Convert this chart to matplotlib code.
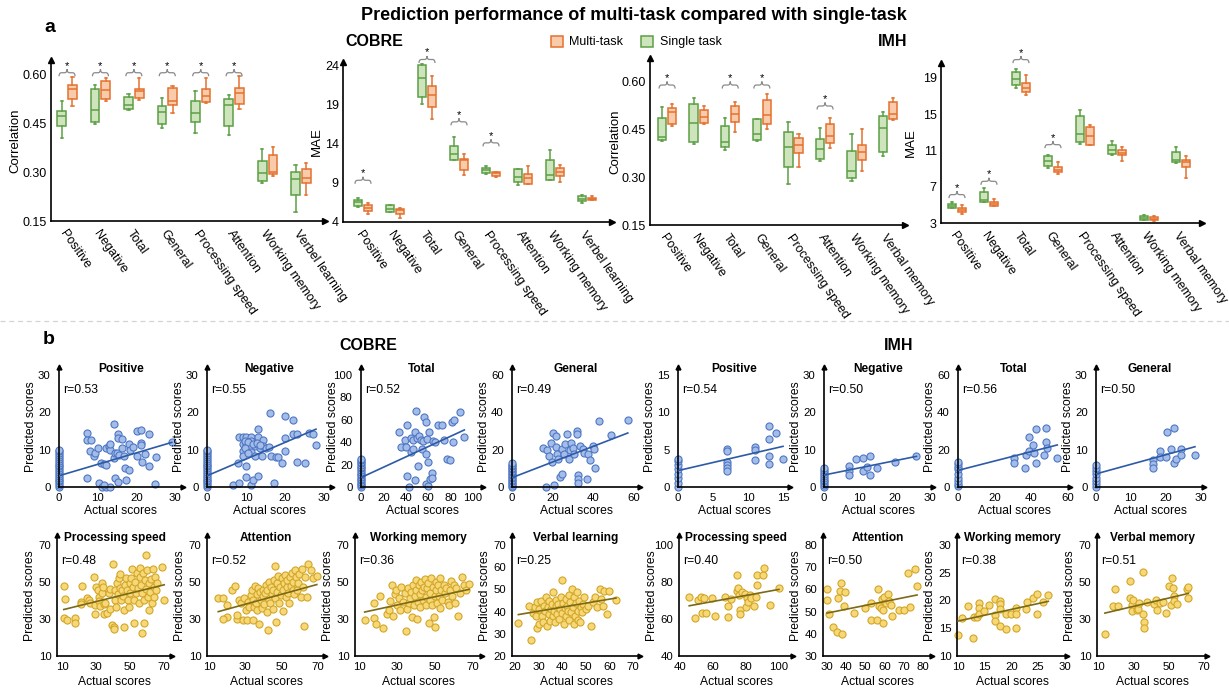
import numpy as np
import matplotlib.pyplot as plt
from matplotlib.path import Path
from matplotlib.patches import PathPatch, Patch
from matplotlib.lines import Line2D

plt.rcParams['font.family'] = ['Liberation Sans', 'DejaVu Sans']

# ---------------- panel a data: (whisker low, q1, median, q3, whisker high)
cobre_labels = ['Positive', 'Negative', 'Total', 'General', 'Processing speed',
                'Attention', 'Working memory', 'Verbel learning']
imh_labels = ['Positive', 'Negative', 'Total', 'General', 'Processing speed',
              'Attention', 'Working memory', 'Verbal memory']

cobre_corr_single = [(0.404, 0.442, 0.471, 0.486, 0.517), (0.446, 0.454, 0.491, 0.553, 0.566),
                     (0.489, 0.494, 0.504, 0.530, 0.540), (0.434, 0.446, 0.484, 0.502, 0.528),
                     (0.419, 0.452, 0.482, 0.517, 0.548), (0.412, 0.441, 0.504, 0.524, 0.536),
                     (0.267, 0.273, 0.298, 0.334, 0.369), (0.178, 0.229, 0.279, 0.299, 0.321)]
cobre_corr_multi = [(0.502, 0.525, 0.553, 0.565, 0.590), (0.517, 0.524, 0.551, 0.580, 0.589),
                    (0.520, 0.527, 0.548, 0.555, 0.589), (0.481, 0.504, 0.518, 0.556, 0.564),
                    (0.510, 0.515, 0.532, 0.553, 0.589), (0.494, 0.507, 0.542, 0.556, 0.595),
                    (0.289, 0.294, 0.301, 0.352, 0.376), (0.229, 0.267, 0.281, 0.309, 0.328)]
cobre_mae_single = [(5.92, 6.04, 6.55, 6.85, 7.11), (5.23, 5.32, 5.70, 6.13, 6.21),
                    (19.0, 19.96, 22.3, 24.08, 24.2), (11.87, 11.96, 12.64, 13.66, 14.85),
                    (10.09, 10.26, 10.68, 10.94, 11.15), (8.77, 9.11, 9.75, 10.77, 10.81),
                    (9.32, 9.40, 9.96, 11.87, 13.15), (6.47, 6.72, 6.98, 7.28, 7.40)]
cobre_mae_multi = [(4.98, 5.36, 5.83, 6.13, 6.43), (4.55, 4.98, 5.49, 5.70, 5.83),
                   (17.19, 18.68, 20.17, 21.4, 22.6), (9.96, 10.68, 11.87, 12.09, 12.72),
                   (9.70, 9.92, 10.26, 10.34, 10.43), (8.85, 8.89, 9.66, 10.17, 11.11),
                   (9.11, 9.83, 10.38, 10.89, 11.23), (6.77, 6.85, 6.98, 7.11, 7.36)]
imh_corr_single = [(0.414, 0.416, 0.424, 0.483, 0.518), (0.403, 0.410, 0.468, 0.528, 0.548),
                   (0.384, 0.393, 0.410, 0.460, 0.486), (0.414, 0.416, 0.436, 0.480, 0.481),
                   (0.278, 0.330, 0.395, 0.440, 0.473), (0.350, 0.355, 0.386, 0.419, 0.452),
                   (0.287, 0.296, 0.320, 0.382, 0.433), (0.367, 0.377, 0.453, 0.492, 0.504)]
imh_corr_multi = [(0.460, 0.466, 0.504, 0.517, 0.528), (0.465, 0.468, 0.489, 0.509, 0.522),
                  (0.441, 0.473, 0.496, 0.522, 0.533), (0.449, 0.466, 0.494, 0.541, 0.558),
                  (0.330, 0.374, 0.400, 0.421, 0.434), (0.390, 0.405, 0.429, 0.466, 0.483),
                  (0.320, 0.353, 0.377, 0.400, 0.449), (0.478, 0.481, 0.497, 0.534, 0.546)]
imh_mae_single = [(4.62, 4.66, 4.91, 5.10, 5.32), (5.28, 5.35, 5.58, 6.38, 6.86),
                  (17.93, 18.26, 18.89, 19.63, 19.99), (9.07, 9.33, 9.88, 10.36, 10.50),
                  (11.72, 11.94, 12.82, 14.77, 15.43), (10.54, 10.65, 11.09, 11.64, 12.09),
                  (3.30, 3.37, 3.55, 3.74, 3.85), (9.62, 9.69, 9.99, 10.80, 11.35)]
imh_mae_multi = [(4.00, 4.18, 4.40, 4.62, 5.02), (4.84, 4.91, 5.13, 5.35, 5.69),
                 (17.12, 17.46, 17.90, 18.45, 19.37), (8.41, 8.59, 8.89, 9.18, 9.69),
                 (11.57, 11.64, 12.56, 13.56, 13.85), (9.88, 10.47, 10.72, 11.02, 11.39),
                 (3.26, 3.30, 3.48, 3.62, 3.81), (7.97, 9.14, 9.73, 9.99, 10.36)]

# significant pairs: (category index, level of the brace)
cobre_corr_sig = [(0, 0.604), (1, 0.604), (2, 0.604), (3, 0.604), (4, 0.604), (5, 0.604)]
cobre_mae_sig = [(0, 9.32), (2, 24.72), (3, 16.77), (4, 14.09)]
imh_corr_sig = [(0, 0.5875), (2, 0.5875), (3, 0.5875), (5, 0.522)]
imh_mae_sig = [(0, 6.13), (1, 7.60), (2, 21.02), (3, 11.64)]

# ---------------- panel b data: (actual, predicted); *_zero = predicted values at actual 0
cobre_pos = [(7.1, 14.5), (7.3, 12.7), (8.2, 12.7), (8.0, 9.7), (9.1, 8.2), (9.3, 9.1), (10.0, 10.5),
             (7.3, 2.5), (10.2, 1.1), (11.0, 0), (12.2, 0), (13.2, 0), (11.5, 0.6), (10.8, 6.4),
             (11.5, 6.1), (12.2, 5.9), (12.2, 10.5), (12.8, 10.9), (13.2, 10.0), (13.2, 11.4),
             (14.1, 16.8), (14.1, 7.7), (14.5, 9.1), (15.0, 9.1), (15.1, 14.3), (15.1, 13.2),
             (15.5, 8.6), (14.5, 2.5), (15.2, 1.4), (16.3, 12.9), (16.3, 10.5), (16.9, 8.2),
             (17.1, 5.2), (18.0, 4.5), (17.4, 1.8), (18.0, 11.4), (18.3, 10.0), (19.1, 10.7),
             (20.2, 15.0), (21.2, 15.2), (21.2, 11.8), (21.2, 11.2), (20.2, 8.2), (21.5, 6.8),
             (22.1, 8.8), (23.2, 14.1), (23.2, 5.6), (25.1, 7.9), (24.9, 0.9), (29.1, 12.0)]
cobre_pos_zero = [0, 0.5, 1, 1.5, 2, 2.5, 3, 3.5, 4, 4.5, 5, 5.5, 6, 6.5, 7, 7.5, 8, 8.5, 9, 9.5, 10]

cobre_neg = [(6.7, 0.6), (8.2, 1.2), (8.0, 6.4), (8.1, 13.4), (9.1, 13.4), (9.1, 11.4), (9.1, 9.7),
             (9.1, 8.2), (10.1, 13.4), (10.1, 11.4), (10.1, 5.7), (10.1, 2.7), (11.2, 13.4),
             (11.2, 12.3), (11.2, 10.9), (11.2, 9.4), (11.2, 0.5), (11.8, 1.8), (12.3, 10.9),
             (12.3, 8.2), (13.1, 15.5), (13.1, 13.4), (13.1, 3.0), (13.6, 10.5), (14.0, 8.2),
             (14.4, 12.5), (14.4, 10.9), (15.1, 10.5), (15.9, 10.6), (16.1, 19.7), (16.5, 8.2),
             (17.2, 1.1), (17.7, 7.9), (18.3, 7.9), (19.1, 6.4), (20.0, 13.0), (20.0, 9.7),
             (20.0, 19.1), (22.0, 17.9), (22.1, 14.1), (23.0, 14.1), (23.0, 6.8), (25.1, 6.4),
             (26.0, 14.5), (27.1, 14.1), (27.9, 11.2), (9.6, 12.4), (10.6, 12.0), (11.7, 11.6),
             (12.8, 11.9), (13.6, 11.3), (9.6, 10.4), (10.6, 9.2)]
cobre_neg_zero = [0, 0.5, 1, 1.5, 2, 2.5, 3, 3.5, 4, 4.5, 5, 5.5, 6, 6.5, 7, 7.5, 8, 8.5, 9, 9.5, 10]

cobre_tot = [(33.9, 48.7), (35.4, 36.1), (39.3, 42.1), (39.9, 36.1), (40.8, 9.9), (41.4, 55.5),
             (43.2, 0.3), (44.3, 43.3), (44.3, 31.3), (46.1, 34.3), (46.7, 42.1), (48.2, 48.7),
             (48.2, 6.0), (49.4, 68.1), (50.3, 43.3), (51.2, 18.8), (51.8, 45.1), (53.3, 42.1),
             (54.2, 34.3), (55.1, 41.2), (56.3, 62.1), (58.0, 58.2), (58.0, 29.3), (58.0, 2.4),
             (59.2, 42.7), (60.1, 0.9), (60.1, 22.4), (61.0, 49.3), (61.6, 7.5), (63.1, 12.8),
             (63.1, 8.4), (64.6, 41.2), (66.1, 40.3), (69.0, 55.2), (72.0, 55.2), (74.1, 42.1),
             (76.5, 24.8), (79.5, 24.2), (81.0, 57.6), (82.4, 39.7), (83.0, 60.0), (88.4, 67.2),
             (92.3, 44.2)]
cobre_tot_zero = [0, 1.5, 3, 4.5, 6, 7.5, 9, 10.5, 12, 13.5, 15, 16.5, 18, 19.5, 21, 22.5, 24, 25]

cobre_gen = [(15.2, 21.1), (16.8, 0), (17.2, 19.8), (18.0, 16.6), (19.2, 23.8), (20.2, 28.8),
             (19.7, 13.4), (20.8, 0.9), (21.8, 21.6), (21.8, 27.3), (22.2, 17.5), (22.5, 15.2),
             (23.8, 5.5), (24.7, 6.8), (24.7, 20.2), (25.5, 17.5), (26.3, 22.9), (27.2, 28.2),
             (28.0, 14.8), (28.5, 19.8), (29.2, 23.8), (30.2, 21.1), (30.5, 17.5), (31.8, 30.0),
             (31.8, 28.2), (32.5, 6.3), (32.5, 4.1), (32.5, 2.0), (33.5, 22.0), (34.7, 20.2),
             (35.5, 18.4), (36.8, 4.1), (37.5, 17.5), (38.5, 14.5), (39.7, 22.0), (40.5, 20.2),
             (40.8, 10.0), (43.0, 35.4), (48.8, 27.7), (57.0, 36.0)]
cobre_gen_zero = [0, 0.8, 1.6, 2.4, 3.2, 4.0, 4.8, 5.6, 6.4, 7.2, 8.0, 8.8, 9.6, 10.4, 11.2, 12.0, 12.8]

imh_pos = [(7, 5.1), (7, 4.8), (7, 3.4), (7, 2.9), (7, 2.5), (7, 2.2), (11, 5.3), (11, 5.0),
           (11, 3.6), (13, 8.2), (13, 6.4), (13, 4.2), (13, 3.1), (14, 7.3), (15, 3.8)]
imh_pos_zero = [0, 0.6, 1.2, 1.8, 2.4, 3.0, 3.5, 3.8]

imh_neg = [(7.2, 5.5), (7.2, 4.3), (7.2, 3.2), (9.1, 7.5), (11.2, 7.7), (11.2, 4.3), (12.2, 5.4),
           (13.1, 8.4), (13.1, 3.2), (15.2, 5.0), (20.3, 6.6), (26.3, 8.2)]
imh_neg_zero = [0, 0.5, 1, 1.5, 2, 2.5, 3, 3.5, 4, 4.5, 5]

imh_tot = [(30.6, 15.7), (30.6, 13.0), (36.7, 10.3), (37.1, 17.0), (38.9, 26.9), (38.9, 19.3),
           (41.1, 22.6), (42.0, 18.4), (43.1, 12.7), (43.1, 31.1), (47.2, 17.0), (48.4, 31.6),
           (48.4, 23.9), (49.0, 20.8), (54.5, 15.4)]
imh_tot_zero = [0.4, 1.6, 3.1, 4.9, 6.7, 9.4, 10.8, 12.1, 13.4]

imh_gen = [(16.4, 7.1), (16.4, 6.2), (16.4, 5.1), (18.3, 9.5), (18.3, 7.9), (20.2, 7.9),
           (20.4, 14.8), (21.5, 10.1), (22.4, 15.7), (22.4, 6.3), (23.1, 7.4), (24.4, 10.1),
           (24.4, 8.6), (28.4, 8.6)]
imh_gen_zero = [0, 0.8, 1.5, 2.5, 3.5, 4.2, 5.0, 5.8]

cobre_ps = [(11.4, 47.8), (11.6, 40.6), (11.0, 30.4), (12.9, 29.5), (17.9, 30.4), (17.9, 28.0),
            (21.8, 47.8), (20.9, 39.4), (20.9, 38.1), (24.8, 41.2), (25.7, 40.3), (26.7, 38.8),
            (29.1, 52.5), (29.7, 37.6), (29.7, 32.7), (30.3, 47.5), (31.1, 45.7), (31.7, 42.1),
            (31.7, 39.9), (32.6, 37.0), (33.6, 49.6), (33.6, 43.9), (34.2, 47.5), (34.6, 38.1),
            (35.0, 32.7), (35.6, 38.5), (36.6, 33.4), (37.6, 43.9), (38.1, 46.2), (38.5, 35.2),
            (39.5, 26.8), (40.1, 59.7), (40.5, 25.9), (40.9, 24.4), (41.5, 45.7), (41.5, 40.3),
            (42.1, 36.7), (42.5, 49.3), (42.9, 43.5), (43.5, 52.0), (44.1, 46.6), (44.4, 54.3),
            (44.8, 40.3), (45.4, 45.7), (46.0, 42.4), (46.4, 34.9), (46.8, 25.9), (47.4, 48.4),
            (48.0, 52.0), (48.4, 45.7), (49.0, 40.3), (49.4, 36.7), (50.0, 49.3), (50.4, 43.9),
            (50.7, 52.0), (51.3, 56.8), (51.9, 47.5), (52.3, 40.3), (52.7, 28.0), (53.3, 50.2),
            (53.9, 43.9), (54.3, 54.7), (54.7, 46.6), (55.3, 38.5), (55.9, 52.5), (56.3, 57.7),
            (56.7, 48.4), (57.2, 43.9), (57.2, 22.6), (57.8, 55.0), (58.2, 40.3), (58.6, 27.7),
            (59.2, 51.1), (59.6, 64.6), (59.8, 46.0), (60.2, 56.5), (60.6, 42.1), (61.2, 34.9),
            (61.6, 49.3), (62.2, 44.8), (62.6, 51.5), (63.1, 38.5), (63.7, 56.8), (64.1, 47.5),
            (64.5, 42.1), (65.1, 52.5), (65.7, 45.7), (66.1, 49.3), (69.0, 57.9), (70.4, 40.3)]

cobre_att = [(15.1, 41.1), (17.5, 41.1), (19.7, 37.5), (19.7, 31.1), (17.9, 30.2), (22.5, 45.6),
             (24.3, 47.8), (25.6, 30.2), (25.6, 32.0), (26.7, 40.5), (27.4, 38.4), (28.5, 29.3),
             (29.3, 41.1), (30.4, 34.7), (31.1, 29.3), (31.7, 39.3), (32.2, 36.5), (32.9, 42.9),
             (33.5, 45.6), (34.0, 29.3), (34.4, 40.2), (34.8, 36.5), (35.3, 47.8), (35.9, 38.4),
             (36.2, 43.4), (36.6, 34.7), (37.2, 46.5), (37.7, 27.5), (38.1, 44.7), (38.4, 40.2),
             (39.0, 36.2), (39.5, 45.9), (39.9, 42.3), (40.3, 38.0), (40.8, 44.1), (41.4, 48.3),
             (41.7, 33.8), (42.1, 45.6), (42.7, 24.2), (42.8, 40.2), (43.2, 50.1), (43.6, 38.4),
             (43.9, 47.4), (44.5, 43.4), (45.0, 35.6), (45.4, 45.6), (45.8, 51.0), (46.3, 41.1),
             (46.3, 58.6), (46.9, 28.4), (47.2, 49.2), (47.6, 44.7), (48.2, 53.2), (48.7, 38.4),
             (49.1, 47.4), (49.4, 42.9), (50.0, 51.9), (50.6, 45.6), (50.9, 34.4), (51.3, 49.2),
             (51.8, 53.7), (52.4, 42.0), (52.8, 47.4), (53.1, 51.0), (53.7, 43.8), (54.2, 38.4),
             (54.6, 52.5), (55.0, 47.8), (55.5, 54.6), (56.1, 45.9), (56.4, 50.1), (56.8, 43.4),
             (57.3, 56.4), (57.9, 52.5), (58.3, 45.6), (59.2, 49.2), (59.7, 54.3), (60.5, 42.0),
             (61.0, 56.8), (61.6, 47.4), (62.3, 26.1), (62.8, 52.5), (63.8, 42.0), (64.7, 59.7),
             (66.0, 56.4), (67.4, 51.9), (69.3, 53.2)]

cobre_wm = [(13.0, 29.3), (17.7, 38.7), (17.7, 30.8), (18.8, 27.1), (20.9, 42.3), (22.6, 25.3),
            (24.7, 32.9), (25.8, 34.7), (26.5, 39.8), (27.5, 48.3), (27.9, 31.5), (28.8, 43.4),
            (29.6, 45.9), (30.0, 37.5), (31.1, 41.1), (31.8, 34.7), (32.3, 47.4), (33.2, 39.3),
            (34.0, 43.8), (34.9, 23.5), (35.3, 35.6), (35.8, 46.5), (36.3, 38.4), (36.7, 41.6),
            (37.5, 44.7), (38.1, 31.1), (38.4, 48.3), (38.8, 37.5), (39.3, 42.3), (39.8, 51.0),
            (40.2, 45.6), (40.5, 30.2), (41.1, 39.3), (41.6, 48.3), (41.9, 43.4), (42.3, 36.5),
            (42.8, 50.1), (43.3, 45.6), (43.7, 40.2), (44.0, 47.4), (44.6, 51.4), (45.1, 42.0),
            (45.4, 37.5), (45.8, 46.5), (46.3, 49.6), (46.8, 27.9), (47.2, 40.2), (47.5, 44.1),
            (48.1, 51.9), (48.6, 37.5), (48.9, 47.4), (49.3, 31.1), (49.8, 25.7), (49.8, 42.3),
            (50.4, 50.1), (50.7, 45.6), (51.1, 38.4), (51.6, 48.3), (52.1, 42.3), (52.5, 51.9),
            (52.8, 36.2), (53.3, 45.9), (53.9, 40.2), (54.6, 48.3), (55.1, 43.8), (56.0, 47.0),
            (56.8, 39.3), (57.4, 37.5), (58.1, 45.6), (58.6, 50.6), (59.1, 42.3), (59.8, 48.3),
            (60.4, 38.7), (61.2, 46.5), (62.1, 31.5), (63.3, 43.8), (64.4, 52.5), (65.1, 48.3),
            (66.5, 45.6), (67.9, 48.8)]

cobre_vl = [(21.4, 34.8), (25.9, 42.7), (26.9, 27.3), (27.6, 39.3), (28.3, 41.9), (28.7, 37.8),
            (29.2, 44.2), (29.2, 32.7), (30.1, 34.5), (30.3, 41.2), (31.0, 44.9), (31.4, 37.8),
            (31.7, 35.2), (32.4, 42.7), (32.8, 40.1), (33.1, 46.7), (33.4, 33.7), (33.8, 42.2),
            (34.2, 38.7), (34.5, 44.9), (34.8, 35.7), (35.2, 41.2), (35.6, 43.4), (35.9, 37.8),
            (36.1, 48.7), (36.6, 40.1), (37.0, 35.2), (37.2, 42.7), (37.5, 45.2), (37.9, 38.7),
            (38.3, 43.4), (38.6, 36.7), (38.9, 41.2), (39.3, 46.4), (39.7, 54.2), (40.0, 39.3),
            (40.3, 43.7), (40.7, 34.5), (41.1, 41.6), (41.4, 45.7), (41.7, 37.8), (42.1, 42.7),
            (42.5, 40.4), (42.8, 47.6), (43.0, 36.3), (43.4, 44.2), (43.9, 39.7), (44.1, 50.1),
            (44.4, 41.9), (44.8, 34.5), (45.2, 46.7), (45.5, 37.8), (45.8, 43.7), (46.2, 48.7),
            (46.6, 40.4), (46.9, 36.0), (47.2, 44.9), (47.6, 35.2), (48.0, 42.2), (48.6, 39.7),
            (49.0, 43.4), (49.4, 46.7), (49.9, 41.2), (50.8, 42.7), (52.4, 33.7), (53.1, 44.2),
            (53.8, 46.7), (54.9, 41.9), (55.9, 50.1), (56.6, 45.7), (57.2, 42.7), (57.9, 49.4),
            (59.0, 39.0), (60.0, 49.4), (62.8, 45.2)]

imh_ps = [(45.6, 71.9), (49.1, 60.5), (51.1, 70.1), (52.5, 71.9), (53.1, 63.0), (54.5, 71.2),
          (55.7, 63.2), (59.1, 71.2), (61.1, 61.7), (67.2, 71.9), (69.2, 61.2), (69.2, 67.1),
          (71.2, 70.6), (74.6, 83.6), (74.6, 75.4), (75.2, 76.5), (75.8, 73.0), (76.6, 64.8),
          (76.6, 62.6), (77.8, 74.6), (79.2, 73.3), (80.2, 66.5), (80.6, 71.5), (81.2, 69.2),
          (82.3, 73.0), (83.3, 71.2), (84.7, 67.1), (86.3, 71.9), (86.7, 78.3), (86.7, 83.6),
          (90.3, 84.0), (90.7, 87.5), (94.7, 67.6), (100.0, 76.9)]

imh_att = [(30.0, 60.1), (30.0, 55.2), (31.2, 48.7), (33.1, 43.0), (35.2, 40.7), (35.9, 56.1),
           (36.6, 59.1), (37.2, 62.7), (37.8, 39.7), (38.6, 52.7), (39.5, 58.7), (43.8, 49.3),
           (49.8, 51.6), (52.8, 46.3), (52.8, 53.7), (56.2, 46.3), (56.7, 60.1), (57.2, 52.7),
           (57.9, 51.6), (58.4, 55.7), (59.0, 50.7), (59.3, 44.8), (59.7, 56.4), (60.7, 53.7),
           (61.9, 57.9), (62.4, 54.9), (63.1, 53.1), (64.1, 48.2), (67.6, 50.7), (70.0, 50.7),
           (73.4, 51.9), (72.2, 67.5), (75.8, 69.3), (76.9, 61.7)]

imh_wm = [(10.0, 13.8), (10.8, 16.8), (11.9, 19.0), (12.8, 13.3), (12.9, 17.0), (13.6, 17.0),
          (13.9, 19.6), (13.9, 18.6), (13.9, 17.6), (14.8, 18.1), (15.8, 19.1), (16.9, 20.2),
          (16.9, 17.4), (16.9, 16.3), (17.8, 19.9), (17.8, 19.4), (17.8, 18.4), (17.8, 15.4),
          (18.9, 17.6), (18.9, 14.8), (20.0, 17.6), (20.8, 18.6), (20.8, 17.6), (20.8, 15.1),
          (22.8, 18.4), (22.9, 19.8), (24.0, 20.4), (24.8, 21.1), (24.8, 17.6), (25.9, 19.8),
          (26.9, 21.0)]

imh_vm = [(13.4, 21.7), (19.1, 46.0), (18.2, 36.9), (21.0, 36.9), (27.7, 50.7), (27.7, 41.6),
          (28.7, 37.5), (28.7, 34.4), (29.6, 40.5), (31.5, 35.1), (32.5, 35.6), (33.0, 38.4),
          (35.0, 55.5), (35.0, 32.9), (35.7, 28.4), (35.7, 25.3), (37.2, 39.3), (41.4, 38.0),
          (42.6, 40.5), (43.0, 35.1), (44.9, 38.4), (46.8, 39.3), (48.3, 33.3), (50.2, 47.8),
          (51.0, 37.5), (51.5, 51.9), (52.1, 46.5), (52.9, 42.3), (52.9, 39.8), (54.8, 38.0),
          (60.5, 46.0), (61.0, 47.4), (61.0, 41.6)]

# fitted lines: (intercept, slope)
row1_fits = [(3.0, 0.307), (3.0, 0.447), (8.4, 0.46), (5.0, 0.42),
             (2.2, 0.217), (3.2, 0.19), (8.9, 0.25), (3.5, 0.256)]
row2_fits = [(32.65, 0.225), (29.9, 0.27), (30.87, 0.223), (34.8, 0.18),
             (59.7, 0.163), (44.1, 0.174), (14.2, 0.21), (30.2, 0.223)]
row1_r = ['r=0.53', 'r=0.55', 'r=0.52', 'r=0.49', 'r=0.54', 'r=0.50', 'r=0.56', 'r=0.50']
row2_r = ['r=0.48', 'r=0.52', 'r=0.36', 'r=0.25', 'r=0.40', 'r=0.50', 'r=0.38', 'r=0.51']
row1_titles = ['Positive', 'Negative', 'Total', 'General', 'Positive', 'Negative', 'Total', 'General']
row2_titles = ['Processing speed', 'Attention', 'Working memory', 'Verbal learning',
               'Processing speed', 'Attention', 'Working memory', 'Verbal memory']

G_EDGE, G_FILL = '#5c9f45', '#cde4bd'
O_EDGE, O_FILL = '#e4712f', '#f9cbab'
B_FACE, B_EDGE, B_LINE = '#a4bde8', '#4f77c4', '#2d5aa6'
Y_FACE, Y_EDGE, Y_LINE = '#f6d877', '#d3a62a', '#7a6915'

W, H = 1229, 690
fig = plt.figure(figsize=(W / 100, H / 100), dpi=100)


def px_axes(l, t, r, b):
    return fig.add_axes([l / W, 1 - b / H, (r - l) / W, (b - t) / H])


def arrow_axes(ax, ms=4):
    for s in ['top', 'right']:
        ax.spines[s].set_visible(False)
    for s in ['left', 'bottom']:
        ax.spines[s].set_linewidth(1.2)
    ax.plot(1, 0, '>k', ms=ms, transform=ax.transAxes, clip_on=False)
    ax.plot(0, 1, '^k', ms=ms, transform=ax.transAxes, clip_on=False)
    ax.tick_params(length=0)


def brace(ax, xc, y, wpx=8, hpx=3.5, r=2.5):
    # curly brace over a pair of boxes, sized in pixels
    pos = ax.get_position()
    x0, x1 = ax.get_xlim()
    y0, y1 = ax.get_ylim()
    sx = (x1 - x0) / (pos.width * W)
    sy = (y1 - y0) / (pos.height * H)
    pts = [(-wpx, -hpx), (-wpx, 0), (-wpx + r, 0), (-r, 0), (0, 0), (0, hpx),
           (0, 0), (r, 0), (wpx - r, 0), (wpx, 0), (wpx, -hpx)]
    codes = [Path.MOVETO, Path.CURVE3, Path.CURVE3, Path.LINETO, Path.CURVE3, Path.CURVE3,
             Path.CURVE3, Path.CURVE3, Path.LINETO, Path.CURVE3, Path.CURVE3]
    verts = [(xc + px * sx, y + py * sy) for px, py in pts]
    ax.add_patch(PathPatch(Path(verts, codes), fill=False, ec='#8a8a8a', lw=0.9, clip_on=False))
    ax.text(xc, y + (hpx + 0.5) * sy, '*', ha='center', va='baseline', fontsize=8, clip_on=False)


def to_stats(rows):
    return [dict(whislo=a, q1=b, med=c, q3=d, whishi=e, fliers=[]) for a, b, c, d, e in rows]


def box_panel(ax, single, multi, labels, sig, ylim, yticks, fmt, ylabel, xlim, ylab_off):
    pos = np.arange(1, len(labels) + 1)
    for rows, off, ec, fc in [(single, -0.16, G_EDGE, G_FILL), (multi, 0.16, O_EDGE, O_FILL)]:
        ax.bxp(to_stats(rows), positions=pos + off, widths=0.26, patch_artist=True,
               showfliers=False, manage_ticks=False, capwidths=0.07,
               boxprops=dict(facecolor=fc, edgecolor=ec, lw=1.1),
               medianprops=dict(color=ec, lw=1.1),
               whiskerprops=dict(color=ec, lw=1.1),
               capprops=dict(color=ec, lw=1.1))
    ax.set_xlim(*xlim)
    ax.set_ylim(*ylim)
    ax.set_yticks(yticks, [fmt.format(v) for v in yticks], fontsize=9)
    ax.set_xticks(pos, labels, rotation=-55, ha='left', va='top', rotation_mode='anchor',
                  fontsize=9)
    arrow_axes(ax, ms=4.5)
    ax.tick_params(axis='y', pad=3)
    ax.tick_params(axis='x', pad=5)
    ax.set_ylabel(ylabel, fontsize=9.5, va='center')
    ax.yaxis.set_label_coords(-ylab_off / (ax.get_position().width * W), 0.5)
    for i, lev in sig:
        brace(ax, pos[i], lev)


# ---------------- panel a
ax1 = px_axes(51, 60, 325, 221)
box_panel(ax1, cobre_corr_single, cobre_corr_multi, cobre_labels, cobre_corr_sig,
          (0.15, 0.643), [0.15, 0.30, 0.45, 0.60], '{:.2f}', 'Correlation', (0.52, 8.72), 36)
ax2 = px_axes(343, 62, 612, 222)
box_panel(ax2, cobre_mae_single, cobre_mae_multi, cobre_labels, cobre_mae_sig,
          (4, 24.4), [4, 9, 14, 19, 24], '{:d}', 'MAE', (0.375, 8.78), 26)
ax3 = px_axes(650, 58, 905, 225)
box_panel(ax3, imh_corr_single, imh_corr_multi, imh_labels, imh_corr_sig,
          (0.15, 0.672), [0.15, 0.30, 0.45, 0.60], '{:.2f}', 'Correlation', (0.46, 8.53), 35)
ax4 = px_axes(941, 63, 1202, 223)
box_panel(ax4, imh_mae_single, imh_mae_multi, imh_labels, imh_mae_sig,
          (3, 20.65), [3, 7, 11, 15, 19], '{:d}', 'MAE', (0.5, 8.66), 30)

handles = [Patch(facecolor=O_FILL, edgecolor=O_EDGE, lw=1.1, label='Multi-task'),
           Patch(facecolor=G_FILL, edgecolor=G_EDGE, lw=1.1, label='Single task')]
fig.legend(handles=handles, loc='center', bbox_to_anchor=(636 / W, 1 - 42 / H), ncol=2,
           frameon=False, fontsize=9, handlelength=1.0, handleheight=1.0,
           columnspacing=1.4, handletextpad=0.5)

fig.text(634 / W, 1 - 16 / H, 'Prediction performance of multi-task compared with single-task',
         ha='center', va='center', fontsize=13, fontweight='bold')
fig.text(50 / W, 1 - 27 / H, 'a', ha='center', va='center', fontsize=14, fontweight='bold')
fig.text(374 / W, 1 - 42 / H, 'COBRE', ha='center', va='center', fontsize=11.5, fontweight='bold')
fig.text(893 / W, 1 - 42 / H, 'IMH', ha='center', va='center', fontsize=11.5, fontweight='bold')

fig.add_artist(Line2D([0, 1], [1 - 321 / H, 1 - 321 / H], transform=fig.transFigure,
                      color='#d4d4d4', lw=0.9, ls=(0, (4, 3))))

# ---------------- panel b
fig.text(49 / W, 1 - 339 / H, 'b', ha='center', va='center', fontsize=14, fontweight='bold')
fig.text(368 / W, 1 - 346 / H, 'COBRE', ha='center', va='center', fontsize=11.5, fontweight='bold')
fig.text(899 / W, 1 - 346 / H, 'IMH', ha='center', va='center', fontsize=11.5, fontweight='bold')

row1_data = [(cobre_pos, cobre_pos_zero), (cobre_neg, cobre_neg_zero), (cobre_tot, cobre_tot_zero),
             (cobre_gen, cobre_gen_zero), (imh_pos, imh_pos_zero), (imh_neg, imh_neg_zero),
             (imh_tot, imh_tot_zero), (imh_gen, imh_gen_zero)]
row2_data = [cobre_ps, cobre_att, cobre_wm, cobre_vl, imh_ps, imh_att, imh_wm, imh_vm]

row1_lr = [(59, 183), (207, 332), (361, 483), (512, 640), (678, 790), (824, 933), (958, 1070), (1096, 1204)]
row2_lr = [(57, 172), (207, 325), (355, 482), (512, 640), (679, 793), (823, 932), (957, 1067), (1097, 1207)]
row1_xlim = [(0, 32), (0, 32), (0, 109), (0, 63), (0, 16), (0, 31), (0, 61.5), (0, 31)]
row1_ylim = [(0, 32.1), (0, 32.1), (0, 107), (0, 64.3), (0, 16.1), (0, 32.1), (0, 64.3), (0, 32.1)]
row1_ticks = [[0, 10, 20, 30], [0, 10, 20, 30], [0, 20, 40, 60, 80, 100], [0, 20, 40, 60],
              [0, 5, 10, 15], [0, 10, 20, 30], [0, 20, 40, 60], [0, 10, 20, 30]]
row2_xlim = [(7, 75), (8.9, 73.8), (7.9, 74.7), (18.7, 73), (39.4, 108.5), (27.9, 84.7),
             (9.8, 30.4), (8.9, 71.7)]
row2_ylim = [(10, 75.4), (10, 75.4), (10, 75.4), (20, 74.5), (40, 105.4), (30, 84.5),
             (10, 31.8), (10, 75.4)]
row2_xticks = [[10, 30, 50, 70], [10, 30, 50, 70], [10, 30, 50, 70], [20, 30, 40, 50, 60, 70],
               [40, 60, 80, 100], [30, 40, 50, 60, 70, 80], [10, 15, 20, 25, 30], [10, 30, 50, 70]]
row2_yticks = [[10, 30, 50, 70], [10, 30, 50, 70], [10, 30, 50, 70], [20, 30, 40, 50, 60, 70],
               [40, 60, 80, 100], [30, 40, 50, 60, 70, 80], [10, 15, 20, 25, 30], [10, 30, 50, 70]]


def scatter_panel(ax, pairs, zeros, fit, title, rtxt, xlim, ylim, xticks, yticks,
                  face, edge, lcol, row):
    x = np.array([p[0] for p in pairs], dtype=float)
    y = np.array([p[1] for p in pairs], dtype=float)
    if zeros is not None:
        x = np.concatenate([np.zeros(len(zeros)), x])
        y = np.concatenate([np.array(zeros, dtype=float), y])
    ax.scatter(x, y, s=26, facecolor=face, edgecolor=edge, linewidth=0.8, clip_on=False, zorder=2)
    xs = np.array([x.min(), x.max()])
    ax.plot(xs, fit[0] + fit[1] * xs, color=lcol, lw=1.2, zorder=3)
    ax.set_xlim(*xlim)
    ax.set_ylim(*ylim)
    ax.set_xticks(xticks)
    ax.set_yticks(yticks)
    arrow_axes(ax, ms=3.5)
    ax.tick_params(labelsize=8.2)
    ax.tick_params(axis='y', pad=4 if row == 2 else 6)
    ax.tick_params(axis='x', pad=4)
    wpx = ax.get_position().width * W
    hpx = ax.get_position().height * H
    ax.set_ylabel('Predicted scores', fontsize=8.7, va='center')
    ax.yaxis.set_label_coords(-(27 if row == 2 else 28) / wpx, 0.5)
    ax.set_xlabel('Actual scores', fontsize=8.7, va='center')
    ax.xaxis.set_label_coords(0.5, -(26 if row == 2 else 24) / hpx)
    ax.text(0.5, 0.985 if row == 1 else 0.975, title, transform=ax.transAxes, ha='center',
            va='center', fontsize=8.6, fontweight='bold')
    ax.text(0.035, 0.81 if row == 1 else 0.785, rtxt, transform=ax.transAxes, ha='left',
            va='center', fontsize=8.7)


for i in range(8):
    l, r = row1_lr[i]
    ax = px_axes(l, 367, r, 487)
    pairs, zeros = row1_data[i]
    scatter_panel(ax, pairs, zeros, row1_fits[i], row1_titles[i], row1_r[i], row1_xlim[i],
                  row1_ylim[i], row1_ticks[i], row1_ticks[i], B_FACE, B_EDGE, B_LINE, 1)
for i in range(8):
    l, r = row2_lr[i]
    ax = px_axes(l, 535, r, 656)
    scatter_panel(ax, row2_data[i], None, row2_fits[i], row2_titles[i], row2_r[i], row2_xlim[i],
                  row2_ylim[i], row2_xticks[i], row2_yticks[i], Y_FACE, Y_EDGE, Y_LINE, 2)

fig.savefig('out.png', dpi=100)
